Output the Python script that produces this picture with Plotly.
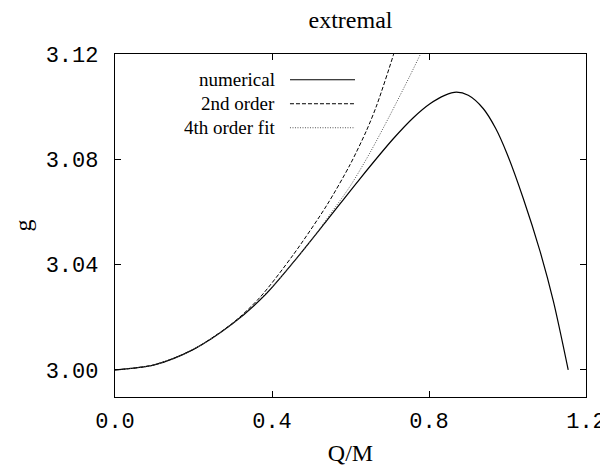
import plotly.graph_objects as go

# ---- data ----
q_num = [0.0, 0.1, 0.2, 0.3, 0.382, 0.454, 0.539, 0.624, 0.709, 0.76, 0.8025,
         0.84, 0.87, 0.90, 0.938, 0.97, 0.998, 1.04, 1.083, 1.117, 1.1547]
g_num = [3.0, 3.0019, 3.0078, 3.0176, 3.0284, 3.0408, 3.0566, 3.0726, 3.0878, 3.0958, 3.1011,
         3.1043, 3.1055, 3.1043, 3.0993, 3.0917, 3.0824, 3.0652, 3.0450, 3.0260, 3.0]

q_2nd = [0.0, 0.1, 0.2, 0.3, 0.369, 0.454, 0.539, 0.599, 0.641, 0.667, 0.709, 0.72]
g_2nd = [3.0, 3.0019, 3.0078, 3.0178, 3.0275, 3.0437, 3.0624, 3.0780, 3.0910, 3.1006, 3.1195, 3.1252]

q_4th = [0.0, 0.1, 0.2, 0.3, 0.4, 0.5, 0.55, 0.60, 0.65, 0.70, 0.75, 0.78, 0.79]
g_4th = [3.0, 3.0019, 3.0078, 3.0176, 3.0315, 3.0492, 3.0595, 3.0700, 3.0826, 3.0966, 3.1113, 3.1205, 3.1236]

series_names = ["numerical", "2nd order", "4th order fit"]
x_ticks = [0.0, 0.4, 0.8, 1.2]
y_ticks = [3.00, 3.04, 3.08, 3.12]

styles = [dict(color="black", width=1.2, dash="solid"),
          dict(color="black", width=1.0, dash="4px,2px"),
          dict(color="#555555", width=1.0, dash="1px,1.5px")]

fig = go.Figure()
for (xs, ys), name, st in zip([(q_num, g_num), (q_2nd, g_2nd), (q_4th, g_4th)], series_names, styles):
    fig.add_trace(go.Scatter(x=xs, y=ys, mode="lines", name=name, showlegend=False,
                             line=dict(color=st["color"], width=st["width"], dash=st["dash"],
                                       shape="spline", smoothing=0.8),
                             cliponaxis=True))

serif = "Liberation Serif, Times New Roman, serif"
mono = "Liberation Mono, Courier New, monospace"

# key (gnuplot style: label on the left, line sample on the right)
key_rows = [0.925, 0.855, 0.785]
for name, st, yk in zip(series_names, styles, key_rows):
    fig.add_annotation(xref="paper", yref="paper", x=0.345, y=yk, text=name, showarrow=False,
                       xanchor="right", yanchor="middle", font=dict(family=serif, size=19, color="black"))
    fig.add_shape(type="line", xref="paper", yref="paper", x0=0.3715, x1=0.5096, y0=yk, y1=yk,
                  line=dict(color=st["color"], width=st["width"], dash=st["dash"]))

# y-axis title, placed further left than the axis title margin constraint allows
fig.add_annotation(xref="paper", yref="paper", x=0, y=0.5, xshift=-93, text="g", showarrow=False,
                   textangle=-90, xanchor="center", yanchor="middle",
                   font=dict(family=serif, size=24, color="black"))

axis_common = dict(showline=True, linecolor="black", linewidth=1.3, mirror="allticks",
                   ticks="inside", ticklen=6, tickcolor="black", tickwidth=1,
                   showgrid=False, zeroline=False,
                   tickfont=dict(family=mono, size=22, color="black"))

fig.update_xaxes(range=[0, 1.2], tickvals=x_ticks, tickformat=".1f",
                 title=dict(text="Q/M", font=dict(family=serif, size=24, color="black"), standoff=10),
                 ticklabelstandoff=3, **axis_common)
fig.update_yaxes(range=[2.9897, 3.12], tickvals=y_ticks, tickformat=".2f",
                 ticklabelstandoff=11, **axis_common)

# page body adds an 8px offset, so margins are shifted accordingly
fig.update_layout(
    width=608, height=470,
    margin=dict(l=107, r=30, t=46, b=81, autoexpand=False),
    paper_bgcolor="white", plot_bgcolor="white",
    title=dict(text="extremal", x=0.5, xref="paper", y=1.0, yanchor="top",
               pad=dict(t=3, b=0), font=dict(family=serif, size=24, color="black")),
    showlegend=False,
)

fig.write_html("out.html")
